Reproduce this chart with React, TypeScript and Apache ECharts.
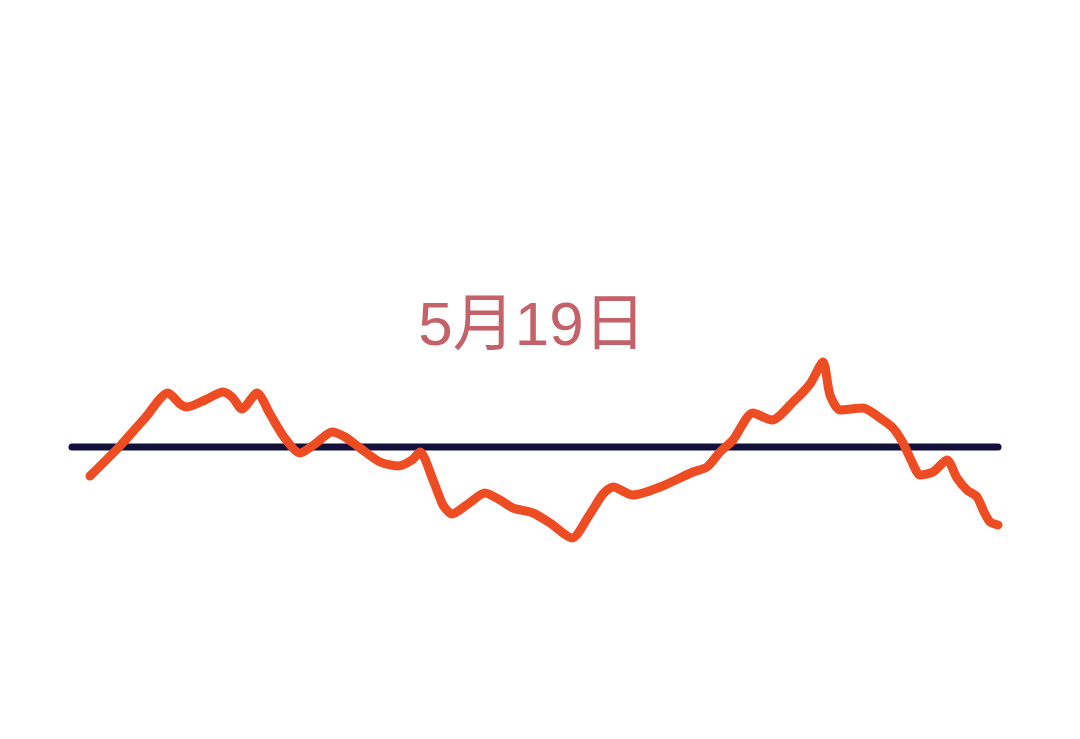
import React, { useEffect, useRef } from "react";
import * as echarts from "echarts";

// time offset (arbitrary units) and change relative to baseline
const times = [0, 30, 55, 78, 90, 97, 115, 133, 142, 152, 167, 180, 194, 210, 225, 242, 255, 270, 290, 308, 322, 330, 343, 353, 362, 378, 395, 410, 423, 443, 460, 482, 500, 513, 523, 543, 570, 603, 617, 630, 643, 663, 682, 703, 720, 733, 740, 750, 773, 790, 803, 813, 822, 830, 843, 857, 867, 877, 887, 894, 900, 908];
const changes = [-29, 1, 29, 54, 43, 40, 47, 55, 50, 38, 54, 33, 10, -6, 3, 15, 10, -1, -15, -19, -13, -5, -33, -58, -67, -57, -46, -53, -61, -66, -76, -91, -67, -47, -40, -48, -40, -25, -20, -5, 7, 34, 27, 45, 63, 85, 52, 37, 39, 29, 19, 4, -15, -28, -25, -13, -31, -43, -50, -65, -75, -78];
const baselineTimes = [-18, 908];
const baselineValue = 0;
const titleText = "5月19日";

export default function App() {
  const ref = useRef<HTMLDivElement>(null);
  useEffect(() => {
    if (!ref.current) return;
    const chart = echarts.init(ref.current, null, { renderer: "svg" });
    chart.setOption({
      animation: false,
      backgroundColor: "#ffffff",
      grid: { left: 0, right: 0, top: 0, bottom: 0 },
      xAxis: { type: "value", min: -90, max: 990, show: false },
      yAxis: { type: "value", min: -292, max: 447, show: false },
      graphic: [
        {
          type: "text",
          x: 532,
          y: 323,
          style: {
            text: titleText,
            fontSize: 62,
            fontFamily: "'Liberation Sans', 'Noto Sans CJK SC', sans-serif",
            fill: "#c4626a",
            textAlign: "center",
            textVerticalAlign: "middle",
          },
        },
      ],
      series: [
        {
          type: "line",
          data: baselineTimes.map((t) => [t, baselineValue]),
          symbol: "none",
          lineStyle: { color: "#14103c", width: 7, cap: "round" },
          z: 1,
        },
        {
          type: "line",
          data: times.map((t, i) => [t, changes[i]]),
          symbol: "none",
          smooth: 0.25,
          lineStyle: { color: "#ee4d24", width: 9, cap: "round", join: "round" },
          z: 2,
        },
      ],
    });
    return () => chart.dispose();
  }, []);
  return (
    <div
      ref={ref}
      style={{ position: "fixed", left: 0, top: 0, width: 1080, height: 739 }}
    />
  );
}
